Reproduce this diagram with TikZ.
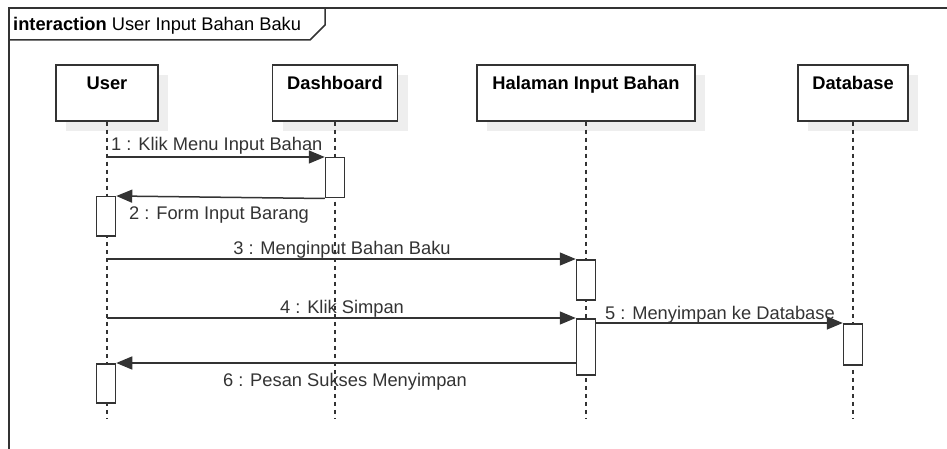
\documentclass[tikz,border=0pt]{standalone}
\usepackage{fontspec}
\setmainfont{Liberation Sans}
\usetikzlibrary{arrows.meta,shadows}
\definecolor{linec}{HTML}{333333}
\definecolor{textc}{HTML}{333333}
\definecolor{shadc}{HTML}{EEEEEE}
\begin{document}
\begin{tikzpicture}[x=1pt,y=-1pt,
  every node/.style={font=\fontsize{18.3}{21}\selectfont},
  lifebox/.style={draw=linec, line width=1.5pt, fill=white, rectangle, inner sep=0pt,
    drop shadow={shadow xshift=10pt, shadow yshift=-10pt, fill=shadc, opacity=1}},
  boxlbl/.style={anchor=base, text=black, font=\fontsize{18.3}{21}\selectfont\bfseries, inner sep=0pt},
  msglbl/.style={text=textc, inner sep=0pt},
  actbox/.style={draw=linec, line width=1.5pt, fill=white, rectangle, inner sep=0pt,
    minimum width=19pt, anchor=north},
  lifeline/.style={draw=linec, line width=1.5pt, dash pattern=on 4pt off 4pt},
  msg/.style={draw=linec, line width=1.5pt, -{Triangle[length=16pt,width=13pt]}},
  framec/.style={draw=linec, line width=1.5pt}
]
\useasboundingbox (0,0) rectangle (947,449);
% frame
\draw[framec] (9,449) -- (9,8) -- (947,8);
\draw[framec] (9,40) -- (310,40) -- (325,25) -- (325,8);
\node[anchor=base west, inner sep=0pt, text=black] (title) at (13,31)
  {\textbf{interaction} User Input Bahan Baku};

% lifeline heads
\node[lifebox, minimum width=102pt, minimum height=56pt] (user) at (107,93) {};
\node[lifebox, minimum width=125pt, minimum height=56pt] (dash) at (335,93) {};
\node[lifebox, minimum width=218pt, minimum height=56pt] (hal) at (586,93) {};
\node[lifebox, minimum width=110pt, minimum height=56pt] (db) at (853,93) {};
\node[boxlbl] (userl) at (107,90) {User};
\node[boxlbl] (dashl) at (335,90) {Dashboard};
\node[boxlbl] (hall) at (586,90) {Halaman Input Bahan};
\node[boxlbl] (dbl) at (853,90) {Database};

% lifeline ends
\coordinate (usere) at (107,418);
\coordinate (dashe) at (335,418);
\coordinate (hale) at (586,418);
\coordinate (dbe) at (853,418);
\draw[lifeline] (user.south) -- (usere);
\draw[lifeline] (dash.south) -- (dashe);
\draw[lifeline] (hal.south) -- (hale);
\draw[lifeline] (db.south) -- (dbe);

% activations
\node[actbox, minimum height=40pt] (a1) at (335,157) {};
\node[actbox, minimum height=39pt] (a2) at (106,196) {};
\node[actbox, minimum height=40pt] (a3) at (586,259) {};
\node[actbox, minimum height=56pt] (a4) at (586,318) {};
\node[actbox, minimum height=41pt] (a5) at (853,323) {};
\node[actbox, minimum height=39pt] (a6) at (106,363) {};

% messages
\draw[msg] (a1.north west -| user) -- (a1.north west);
\draw[msg] (a1.south west) -- (a2.north east);
\draw[msg] (a3.north west -| user) -- (a3.north west);
\draw[msg] (a4.north west -| user) -- (a4.north west);
\draw[msg] (a5.north west -| a4.east) -- (a5.north west);
\draw[msg] (a6.north east -| a4.west) -- (a6.north east);

% message labels
\node[msglbl, anchor=base west] (l1) at (111,151) {1 : Klik Menu Input Bahan};
\node[msglbl, anchor=base west] (l2) at (129,219) {2 : Form Input Barang};
\node[msglbl, anchor=base] (l3) at (342,254) {3 : Menginput Bahan Baku};
\node[msglbl, anchor=base] (l4) at (342,313) {4 : Klik Simpan};
\node[msglbl, anchor=base west] (l5) at (605,319) {5 : Menyimpan ke Database};
\node[msglbl, anchor=base] (l6) at (345,386) {6 : Pesan Sukses Menyimpan};
\end{tikzpicture}
\end{document}
